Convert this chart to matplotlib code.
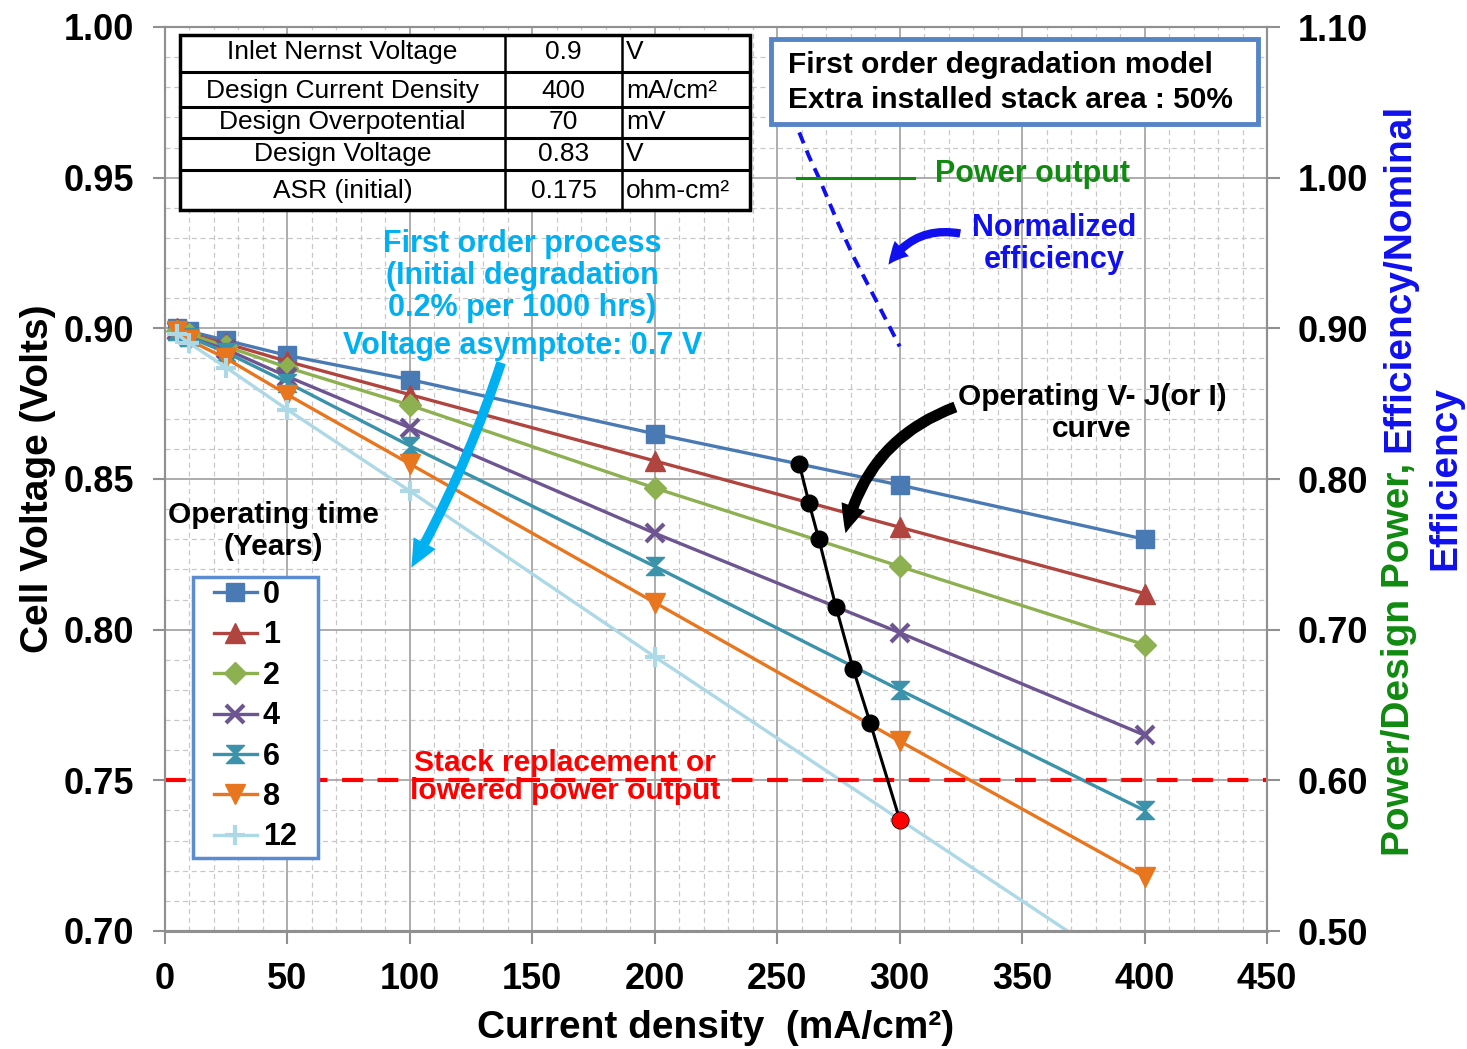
"""Cell voltage vs current density for several operating years, with degradation notes."""

import matplotlib
matplotlib.use("Agg")
import matplotlib.pyplot as plt
from matplotlib.lines import Line2D
from matplotlib.patches import Rectangle, FancyArrowPatch
from matplotlib.ticker import MultipleLocator, FormatStrFormatter

plt.rcParams["font.family"] = ["Liberation Sans", "DejaVu Sans"]
plt.rcParams["font.weight"] = "bold"

W, H = 1467, 1049

# current density points (mA/cm2)
current = [5, 10, 25, 50, 100, 200, 300, 400]

# cell voltage for each operating year
years = ["0", "1", "2", "4", "6", "8", "12"]
voltage = {
    "0": [0.900, 0.899, 0.896, 0.891, 0.883, 0.865, 0.848, 0.830],
    "1": [0.900, 0.898, 0.895, 0.889, 0.878, 0.856, 0.834, 0.812],
    "2": [0.899, 0.898, 0.894, 0.887, 0.8745, 0.847, 0.821, 0.795],
    "4": [0.899, 0.897, 0.893, 0.884, 0.867, 0.832, 0.799, 0.765],
    "6": [0.899, 0.897, 0.892, 0.882, 0.861, 0.821, 0.780, 0.740],
    "8": [0.899, 0.896, 0.890, 0.878, 0.855, 0.809, 0.763, 0.718],
    "12": [0.898, 0.895, 0.887, 0.873, 0.846, 0.791, 0.737, 0.683],
}

# operating point path (one point per year, last one flagged)
op_current = [259, 263, 267, 274, 281, 288, 300]
op_voltage = [0.855, 0.842, 0.830, 0.8075, 0.787, 0.769, 0.737]

# right axis: normalized efficiency and power along the operating path
eff_current = [259, 263, 267, 274, 281, 288, 300]
eff_norm = [1.030, 1.014, 1.000, 0.973, 0.948, 0.926, 0.888]
power_current = [258, 306]
power_norm = [1.0, 1.0]

replacement_voltage = 0.75

table_rows = [
    ("Inlet Nernst Voltage", "0.9", "V"),
    ("Design Current Density", "400", "mA/cm²"),
    ("Design Overpotential", "70", "mV"),
    ("Design Voltage", "0.83", "V"),
    ("ASR (initial)", "0.175", "ohm-cm²"),
]

colors = {
    "0": "#4a7ab4", "1": "#b0443f", "2": "#8db050", "4": "#6d5592",
    "6": "#3a93ab", "8": "#e8761f", "12": "#add8e6",
}
hourglass = [(-1, 1), (1, 1), (-1, -1), (1, -1), (-1, 1)]
markers = {"0": "s", "1": "^", "2": "D", "4": "x", "6": hourglass, "8": "v", "12": "+"}
msizes = {"0": 13, "1": 14, "2": 11, "4": 13, "6": 13, "8": 14, "12": 15}

GREEN = "#108a10"
BLUE = "#1010ee"
CYAN = "#00b0f0"


def fx(px):
    return px / W


def fy(py):
    return 1 - py / H


fig = plt.figure(figsize=(W / 100, H / 100), dpi=100)
ax = fig.add_axes([fx(165), fy(931), fx(1267) - fx(165), fy(27) - fy(931)])

ax.set_xlim(0, 450)
ax.set_ylim(0.70, 1.00)
ax.xaxis.set_major_locator(MultipleLocator(50))
ax.xaxis.set_minor_locator(MultipleLocator(10))
ax.yaxis.set_major_locator(MultipleLocator(0.05))
ax.yaxis.set_minor_locator(MultipleLocator(0.01))
ax.yaxis.set_major_formatter(FormatStrFormatter("%.2f"))
ax.grid(True, which="major", color="#a6a6a6", lw=1.3)
ax.grid(True, which="minor", color="#c8c8c8", lw=0.9, ls=(0, (4, 3)))
ax.set_axisbelow(True)
for side in ax.spines.values():
    side.set_color("#909090")
    side.set_linewidth(1.5)
ax.spines["bottom"].set_linewidth(2.2)
ax.tick_params(which="major", direction="out", length=9, width=1.5, color="#909090",
               labelsize=26, pad=13)
ax.tick_params(which="minor", length=0)
for lab in ax.get_xticklabels() + ax.get_yticklabels():
    lab.set_fontweight("bold")

for yr in years:
    ax.plot(current, voltage[yr], color=colors[yr], lw=2.4, marker=markers[yr],
            ms=msizes[yr], mew=3 if yr in ("4", "12") else 1, mec=colors[yr],
            label=yr, zorder=3)

ax.axhline(replacement_voltage, color="#ff0000", lw=3, ls=(0, (5, 3.5)), zorder=4)

ax.plot(op_current, op_voltage, color="black", lw=2.2, marker="o", ms=12, zorder=5)
ax.plot(op_current[-1:], op_voltage[-1:], "o", color="#ff0000", ms=11, zorder=6)

ax.set_xlabel("Current density  (mA/cm²)", fontsize=28, fontweight="bold", labelpad=10)
ax.set_ylabel("Cell Voltage (Volts)", fontsize=28, fontweight="bold", labelpad=6)

# legend box drawn separately so its size can be set directly
ax.add_patch(Rectangle((fx(193), fy(858)), fx(318 - 193), (858 - 577) / H,
                       transform=fig.transFigure, facecolor="white",
                       edgecolor="#5b8bd0", lw=2.5, zorder=9, clip_on=False))
leg = ax.legend(loc="upper left", bbox_to_anchor=(fx(211), fy(577)),
                bbox_transform=fig.transFigure, prop={"size": 22, "weight": "bold"},
                frameon=False, handlelength=1.4, handletextpad=0.2,
                labelspacing=0.34, borderpad=0.1, borderaxespad=0)
leg.set_zorder(10)

ax2 = ax.twinx()
ax2.set_ylim(0.50, 1.10)
ax2.yaxis.set_major_locator(MultipleLocator(0.10))
ax2.yaxis.set_major_formatter(FormatStrFormatter("%.2f"))
ax2.tick_params(direction="out", length=9, width=1.5, color="#909090", labelsize=26, pad=13)
for lab in ax2.get_yticklabels():
    lab.set_fontweight("bold")
for side in ax2.spines.values():
    side.set_color("#909090")
    side.set_linewidth(1.5)
ax2.plot(eff_current, eff_norm, color=BLUE, lw=2.8, ls=(0, (3, 2)), zorder=3)
ax2.plot(power_current, power_norm, color=GREEN, lw=2.2, zorder=3)

# parameter table, top left
col_x = [180, 505, 622, 750]
row_y = [35, 72, 107, 138, 170, 210]
fig.add_artist(Rectangle((fx(col_x[0]), fy(row_y[-1])), fx(col_x[-1] - col_x[0]),
                         (row_y[-1] - row_y[0]) / H, transform=fig.transFigure,
                         facecolor="white", edgecolor="black", lw=2.5, zorder=8))
for y in row_y[1:-1]:
    fig.add_artist(Line2D([fx(col_x[0]), fx(col_x[-1])], [fy(y), fy(y)],
                          color="black", lw=2.2, zorder=9))
for x in col_x[1:-1]:
    fig.add_artist(Line2D([fx(x), fx(x)], [fy(row_y[0]), fy(row_y[-1])],
                          color="black", lw=1.8, zorder=9))
row_text_y = [52, 91, 122, 154, 191]
for i, (name, val, unit) in enumerate(table_rows):
    yc = fy(row_text_y[i])
    kw = dict(fontsize=19, fontweight="normal", va="center", zorder=10)
    fig.text(fx((col_x[0] + col_x[1]) / 2), yc, name, ha="center", **kw)
    fig.text(fx((col_x[1] + col_x[2]) / 2), yc, val, ha="center", **kw)
    fig.text(fx(col_x[2] + 4), yc, unit, ha="left", **kw)

# model box, top right
fig.add_artist(Rectangle((fx(771), fy(124)), fx(1258 - 771), (124 - 39) / H,
                         transform=fig.transFigure, facecolor="white",
                         edgecolor="#5585c5", lw=3.5, zorder=8))
fig.text(fx(788), fy(65), "First order degradation model", fontsize=21.5,
         fontweight="bold", va="center", zorder=10)
fig.text(fx(788), fy(100), "Extra installed stack area : 50%", fontsize=21.5,
         fontweight="bold", va="center", zorder=10)

fig.text(fx(935), fy(174), "Power output", fontsize=22, fontweight="bold",
         color=GREEN, va="center")
fig.text(fx(1054), fy(244), "Normalized\nefficiency", fontsize=22, fontweight="bold",
         color=BLUE, ha="center", va="center", linespacing=1.1)

fig.text(fx(522), fy(276), "First order process\n(Initial degradation\n0.2% per 1000 hrs)",
         fontsize=22, fontweight="bold", color=CYAN, ha="center", va="center",
         linespacing=1.1)
fig.text(fx(523), fy(346), "Voltage asymptote: 0.7 V", fontsize=22, fontweight="bold",
         color=CYAN, ha="center", va="center")

fig.text(fx(1092), fy(413), "Operating V- J(or I)\ncurve", fontsize=21.5,
         fontweight="bold", ha="center", va="center", linespacing=1.15)
fig.text(fx(273), fy(531), "Operating time\n(Years)", fontsize=21.5, fontweight="bold",
         ha="center", va="center", linespacing=1.15)
fig.text(fx(565), fy(777), "Stack replacement or\nlowered power output", fontsize=21.5,
         fontweight="bold", color="#ff0000", ha="center", va="center", linespacing=1.0,
         zorder=6)


def arrow(p0, p1, rad, color, tail, head_w, head_l):
    fig.add_artist(FancyArrowPatch(
        (fx(p0[0]), fy(p0[1])), (fx(p1[0]), fy(p1[1])), transform=fig.transFigure,
        connectionstyle=f"arc3,rad={rad}",
        arrowstyle=f"simple,tail_width={tail},head_width={head_w},head_length={head_l}",
        color=color, lw=0, zorder=7))


arrow((502, 360), (410, 570), -0.05, CYAN, 7, 18, 20)
arrow((958, 406), (845, 536), 0.28, "black", 8, 18, 20)
arrow((963, 234), (887, 267), 0.35, BLUE, 6, 15, 15)

# right axis label in two colours
fig.canvas.draw()
renderer = fig.canvas.get_renderer()
t1 = fig.text(fx(1399), fy(856), "Power/Design Power, ", rotation=90, fontsize=28,
              fontweight="bold", color=GREEN, ha="center", va="bottom")
bb = t1.get_window_extent(renderer)
fig.text(fx(1399), bb.y1 / fig.bbox.height, "Efficiency/Nominal", rotation=90,
         fontsize=28, fontweight="bold", color=BLUE, ha="center", va="bottom")
fig.text(fx(1445), fy(478), "Efficiency", rotation=90, fontsize=28, fontweight="bold",
         color=BLUE, ha="center", va="center")

fig.savefig("out.png", dpi=100)
